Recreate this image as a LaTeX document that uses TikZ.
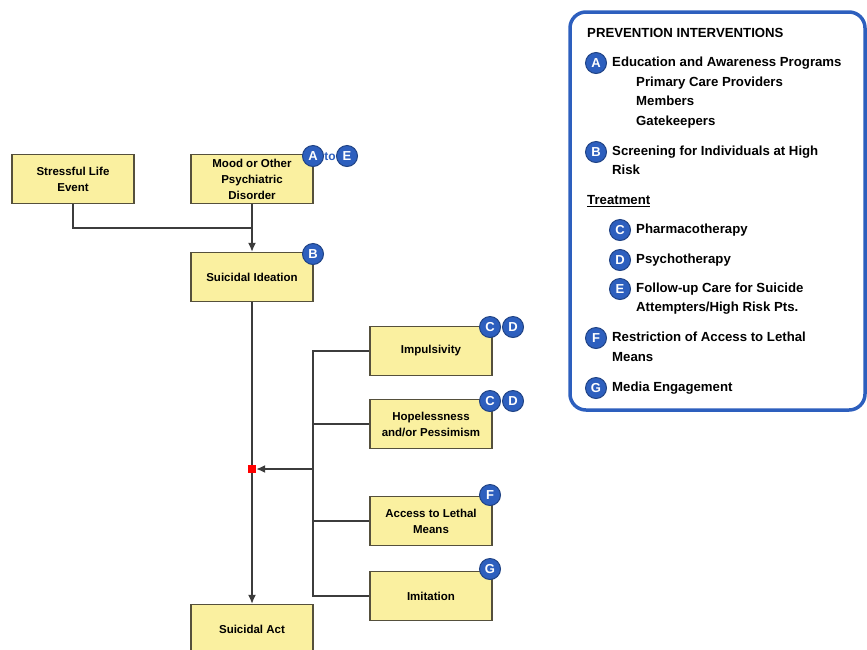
\documentclass[tikz,border=0pt]{standalone}
\usepackage{fontspec}
\setmainfont{Liberation Sans}
\usetikzlibrary{arrows.meta}
\definecolor{boxyellow}{RGB}{250,240,160}
\definecolor{boxedge}{RGB}{85,80,60}
\definecolor{badgeblue}{RGB}{45,95,190}
\definecolor{linegray}{RGB}{60,60,60}

\begin{document}
\begin{tikzpicture}[x=1pt,y=-1pt,
    factor/.style={draw=boxedge, line width=1.4pt, fill=boxyellow, minimum width=122pt,
        minimum height=49pt, align=center, inner sep=2pt,
        font=\fontsize{11.5}{16}\selectfont\bfseries},
    badge/.style={circle, fill=badgeblue, draw=badgeblue!70!black, line width=1pt,
        text=white, inner sep=0pt, minimum size=21pt, font=\fontsize{13}{13}\selectfont\bfseries},
    legend/.style={anchor=west, inner sep=0pt, text height=9pt, text depth=2.5pt,
        font=\fontsize{13.2}{16}\selectfont\bfseries},
    link/.style={draw=linegray, line width=1.4pt},
    tip/.style={-{Latex[length=9pt,width=8pt]}}]
    \clip (0,0) rectangle (867,649);
    % risk factor boxes
    \path (73,179) node[factor](stress){Stressful Life\\Event}
        (252,179) node[factor](mood){Mood or Other\\Psychiatric\\Disorder}
        (252,277) node[factor](ideation){Suicidal Ideation}
        (431,351) node[factor](impuls){Impulsivity}
        (431,424) node[factor](hopeless){Hopelessness\\and/or Pessimism}
        (431,521) node[factor](access){Access to Lethal\\Means}
        (431,596) node[factor](imitate){Imitation}
        (252,629) node[factor](act){Suicidal Act};
    \coordinate (join) at (252,228);
    \coordinate (bus) at (313,469);
    \node[fill=red, minimum size=8pt, inner sep=0pt] (hub) at (252,469) {};
    % connectors
    \draw[link] (stress.south) |- (join);
    \draw[link, tip] (mood.south) -- (ideation.north);
    \draw[link] (ideation.south) -- (hub.north);
    \draw[link, tip] (hub.south) -- (act.north);
    \draw[link] (impuls.west) -- (impuls.west -| bus) -- (imitate.west -| bus) -- (imitate.west);
    \draw[link] (hopeless.west) -- (hopeless.west -| bus);
    \draw[link] (access.west) -- (access.west -| bus);
    \draw[link, tip] (bus) -- (hub.east);
    % intervention badges
    \node[badge] (ba) at (313,156) {A};
    \node[text=badgeblue, inner sep=0pt, font=\fontsize{12}{12}\selectfont\bfseries] (to) at (330,157) {to};
    \node[badge] (be) at (347,156) {E};
    \node[badge] (bb) at (313,254) {B};
    \node[badge] (bc1) at (490,327) {C};
    \node[badge] (bd1) at (513,327) {D};
    \node[badge] (bc2) at (490,401) {C};
    \node[badge] (bd2) at (513,401) {D};
    \node[badge] (bf) at (490,495) {F};
    \node[badge] (bg) at (490,569) {G};
    % legend
    \draw[draw=badgeblue, line width=3.5pt, rounded corners=16pt, fill=white] (570,12) rectangle (865,410);
    \node[legend] (title) at (587,34) {PREVENTION INTERVENTIONS};
    \node[badge] (la) at (596,63) {A};
    \node[legend] (educ) at (612,63) {Education and Awareness Programs};
    \node[legend] (prim) at (636,83) {Primary Care Providers};
    \node[legend] (memb) at (636,102) {Members};
    \node[legend] (gate) at (636,122) {Gatekeepers};
    \node[badge] (lb) at (596,152) {B};
    \node[legend] (screen) at (612,152) {Screening for Individuals at High};
    \node[legend] (risk) at (612,171) {Risk};
    \node[legend] (treat) at (587,201) {\underline{Treatment}};
    \node[badge] (lc) at (620,230) {C};
    \node[legend] (pharm) at (636,230) {Pharmacotherapy};
    \node[badge] (ld) at (620,260) {D};
    \node[legend] (psych) at (636,260) {Psychotherapy};
    \node[badge] (le) at (620,289) {E};
    \node[legend] (follow) at (636,289) {Follow-up Care for Suicide};
    \node[legend] (attempt) at (636,308) {Attempters/High Risk Pts.};
    \node[badge] (lf) at (596,338) {F};
    \node[legend] (restrict) at (612,338) {Restriction of Access to Lethal};
    \node[legend] (means) at (612,358) {Means};
    \node[badge] (lg) at (596,388) {G};
    \node[legend] (media) at (612,388) {Media Engagement};
\end{tikzpicture}
\end{document}
